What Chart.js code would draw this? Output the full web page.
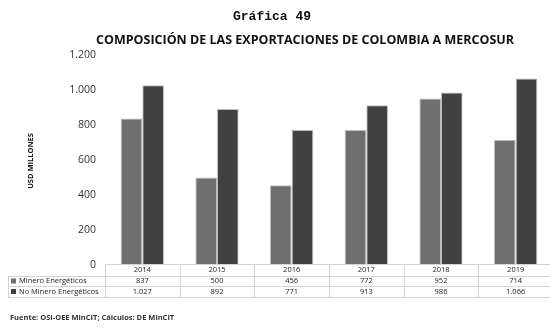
<!DOCTYPE html>
<html>
<head>
<meta charset="utf-8">
<script src="https://cdn.jsdelivr.net/npm/chart.js@4.4.1/dist/chart.umd.min.js"></script>
<style>
  html, body { margin: 0; padding: 0; background: #fff; overflow: hidden; }
  #wrap { position: relative; width: 556px; height: 328px; }
</style>
</head>
<body>
<div id="wrap"><canvas id="chart" width="556" height="328"></canvas></div>
<script>
// ── Data ──
const years = ['2014', '2015', '2016', '2017', '2018', '2019'];
const mineroEnergeticos = [837, 500, 456, 772, 952, 714];
const noMineroEnergeticos = [1027, 892, 771, 913, 986, 1066];
const yTicks = [0, 200, 400, 600, 800, 1000, 1200];

const lightGray = '#6f6f6f';
const darkGray = '#414141';
const gridLine = '#d4d4d4';

const fmt = v => v.toLocaleString('de-DE');

// titles, axis title, data table and source line
const decorations = {
    id: 'decorations',
    afterDraw(chart) {
        const ctx = chart.ctx;
        const area = chart.chartArea;
        const x = chart.scales.x;
        const colW = (area.right - area.left) / years.length;

        ctx.save();
        ctx.fillStyle = '#111';
        ctx.textAlign = 'center';
        ctx.textBaseline = 'middle';
        ctx.font = 'bold 13px "Liberation Mono", monospace';
        ctx.fillText('Gráfica 49', 272, 17);
        ctx.font = 'bold 12.5px "Open Sans", sans-serif';
        ctx.fillText('COMPOSICIÓN DE LAS EXPORTACIONES DE COLOMBIA A MERCOSUR', 305, 40);

        // y axis title
        ctx.save();
        ctx.translate(31, 161);
        ctx.rotate(-Math.PI / 2);
        ctx.font = 'bold 7.5px "Liberation Sans Narrow", "Open Sans", sans-serif';
        ctx.fillText('USD MILLONES', 0, 0);
        ctx.restore();

        // table
        const rows = [264, 276, 286, 297];
        const labelLeft = 8;
        ctx.strokeStyle = gridLine;
        ctx.lineWidth = 1;
        ctx.beginPath();
        ctx.moveTo(area.left, rows[0] + 0.5);
        ctx.lineTo(area.right, rows[0] + 0.5);
        for (let r = 1; r < rows.length; r++) {
            ctx.moveTo(labelLeft, rows[r] + 0.5);
            ctx.lineTo(area.right, rows[r] + 0.5);
        }
        ctx.moveTo(labelLeft + 0.5, rows[1]);
        ctx.lineTo(labelLeft + 0.5, rows[3]);
        for (let i = 0; i <= years.length; i++) {
            const gx = Math.round(area.left + i * colW) + 0.5;
            ctx.moveTo(gx, rows[0]);
            ctx.lineTo(gx, rows[3]);
        }
        ctx.stroke();

        ctx.font = '7.5px "Open Sans", sans-serif';
        ctx.fillStyle = '#222';
        years.forEach((yr, i) => {
            const cx = x.getPixelForValue(i);
            ctx.fillText(yr, cx, (rows[0] + rows[1]) / 2);
            ctx.fillText(fmt(mineroEnergeticos[i]), cx, (rows[1] + rows[2]) / 2);
            ctx.fillText(fmt(noMineroEnergeticos[i]), cx, (rows[2] + rows[3]) / 2);
        });

        ctx.textAlign = 'left';
        const labels = [['Minero Energéticos', lightGray], ['No Minero Energéticos', darkGray]];
        labels.forEach(([txt, col], r) => {
            const cy = (rows[r + 1] + rows[r + 2]) / 2;
            ctx.fillStyle = col;
            ctx.fillRect(11, cy - 2.5, 5, 5);
            ctx.fillStyle = '#222';
            ctx.fillText(txt, 19, cy);
        });

        // source
        ctx.font = 'bold 7.5px "Open Sans", sans-serif';
        ctx.fillStyle = '#333';
        ctx.fillText('Fuente: OSI-OEE MinCIT; Cálculos: DE MinCIT', 10, 318);
        ctx.restore();
    }
};

new Chart(document.getElementById('chart'), {
    type: 'bar',
    data: {
        labels: years,
        datasets: [
            {
                label: 'Minero Energéticos',
                data: mineroEnergeticos,
                backgroundColor: lightGray,
                borderColor: '#bdbdbd',
                borderWidth: 1,
                categoryPercentage: 0.58,
                barPercentage: 1.0,
            },
            {
                label: 'No Minero Energéticos',
                data: noMineroEnergeticos,
                backgroundColor: darkGray,
                borderColor: '#bdbdbd',
                borderWidth: 1,
                categoryPercentage: 0.58,
                barPercentage: 1.0,
            }
        ]
    },
    options: {
        responsive: false,
        animation: false,
        devicePixelRatio: 1,
        layout: { padding: { top: 55, bottom: 63, left: 0, right: 3 } },
        plugins: {
            legend: { display: false },
            tooltip: { enabled: false },
        },
        scales: {
            x: {
                display: false,
            },
            y: {
                min: 0, max: 1200,
                afterFit: s => { s.width = 105; },
                afterBuildTicks: s => { s.ticks = yTicks.map(v => ({ value: v })); },
                grid: { display: false, drawTicks: false },
                border: { display: false },
                ticks: {
                    padding: 9,
                    color: '#333',
                    font: { family: '"Open Sans", sans-serif', size: 10.5 },
                    callback: v => fmt(v),
                }
            }
        }
    },
    plugins: [decorations]
});
</script>
</body>
</html>
